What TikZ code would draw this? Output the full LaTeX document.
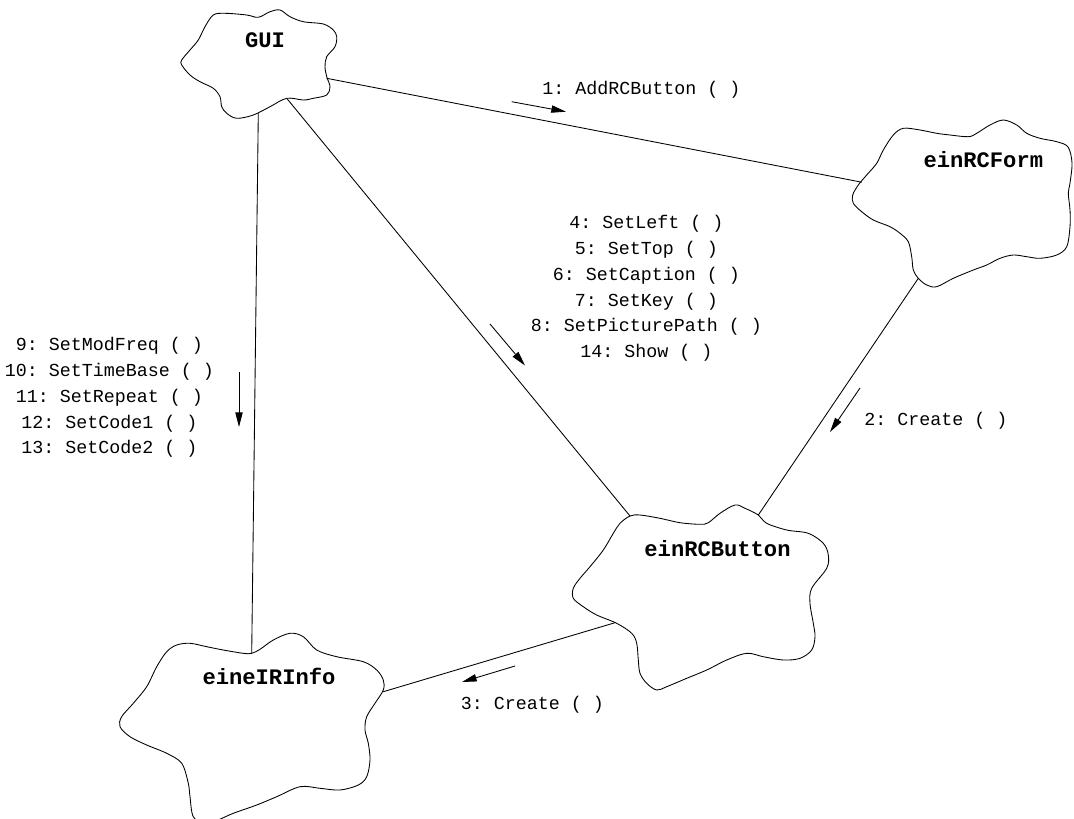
\documentclass[tikz,border=0pt]{standalone}
\usepackage{fontspec}
\setmonofont{Liberation Mono}
\usetikzlibrary{arrows.meta}
\tikzset{
  cloudline/.style={draw=black, line width=0.65pt, line join=round},
  link/.style={draw=black, line width=0.65pt},
  msgarrow/.style={draw=black, line width=0.65pt, -{Triangle[length=11pt,width=5.5pt]}},
  objname/.style={inner sep=0pt, font=\ttfamily\bfseries\fontsize{16.6}{19}\selectfont},
  msg/.style={inner sep=0pt, align=center, font=\ttfamily\fontsize{13.75}{19.35}\selectfont},
}
\begin{document}
\begin{tikzpicture}[x=0.75pt, y=-0.75pt]
\useasboundingbox (0,0) rectangle (1074,818);
\clip (0,0) rectangle (1074,818);

% ---------- clouds ----------
% GUI
\draw[cloudline] plot[smooth cycle, tension=0.55] coordinates {
 (213.3,15) (225,13.3) (246.7,15) (258.3,17.3) (270,11.7) (280,10) (290,16.7)
 (303.3,21.7) (323.3,24) (333.3,30) (336.7,36.7) (335,46.7) (326.7,56.7)
 (325,66.7) (326.7,76.7) (330,86.7) (326.7,95) (313.3,98.3) (303.3,100)
 (286.7,98.3) (270,106.7) (253.3,115) (236.7,118.3) (226.7,113.3) (221.7,106.7)
 (220,96.7) (213.3,88.3) (200,81.7) (190,75) (181.7,65) (181.7,60) (190,50)
 (198.3,40) (205,26.7)};
% einRCForm
\draw[cloudline] plot[smooth cycle, tension=0.55] coordinates {
 (893.3,135) (903.3,128.3) (920,130) (936.7,133.3) (950,135) (968.3,136.7)
 (976.7,133.3) (990,125) (1003.3,120) (1016.7,125) (1026.7,133.3) (1040,138.3)
 (1056.7,141.7) (1068,147) (1072,163) (1070,183) (1068.3,193.3) (1070,210)
 (1070,226.7) (1066.7,246.7) (1056.7,255) (1040,258.3) (1026.7,256.7)
 (1013.3,255) (1000,258.3) (986.7,265) (973.3,270) (953.3,278.3) (936.7,286.7)
 (926.7,285) (918.3,278.3) (913.3,270) (911.7,256.7) (908.3,241.7) (900,233.3)
 (890,226.7) (873.3,220) (861.7,211.7) (853.3,203.3) (852.7,195) (858.3,185)
 (866.7,175) (876.7,163.3) (883.3,150)};
% einRCButton
\draw[cloudline] plot[smooth cycle, tension=0.55] coordinates {
 (630,516) (640,515) (660,518.3) (680,522.7) (700,524.3) (708.3,522.7)
 (720,513.3) (735,505) (745,508.3) (758.3,515) (766.7,523.3) (786.7,530)
 (808.3,533.3) (823.3,543.3) (828.3,555) (826.7,568.3) (811.7,588.3)
 (810,603.3) (813.3,623.3) (815,636.7) (811.7,650) (800,658.3) (783.3,660)
 (763.3,656.7) (746.7,653.3) (726.7,660) (706.7,670) (686.7,678.3)
 (666.7,686.7) (656.7,690) (646.7,683.3) (640,673.3) (638.3,660) (636.7,643.3)
 (631.7,633.3) (616.7,623.3) (596.7,615) (583.3,606.7) (573.3,598.3)
 (573.3,588.3) (580,578.3) (590,566.7) (603.3,550) (613.3,533.3) (620,523.3)};
% eineIRInfo
\draw[cloudline] plot[smooth cycle, tension=0.55] coordinates {
 (166.7,651.7) (176.7,645) (190,643.3) (206.7,646.7) (223.3,650) (243.3,653.3)
 (251.7,653.3) (260,649.3) (273.3,640) (290,633.3) (303.3,636.7) (316.7,650)
 (336.7,656.7) (363.3,661.7) (376.7,670) (383.3,680) (383.3,690) (375,703.3)
 (366.7,716.7) (365,730) (368.3,743.3) (370,760) (366.7,776.7) (358.3,785)
 (340,790) (320,788.3) (300,786.7) (276.7,796.7) (256.7,805) (233.3,813.3)
 (218,820) (205,824) (193.3,816.7) (190,796.7) (188.3,783.3) (181.7,763.3)
 (166.7,753.3) (146.7,745) (130,736.7) (120,726.7) (121.7,716.7) (133.3,703.3)
 (146.7,686.7) (156.7,666.7)};

% ---------- object names ----------
\node[objname] (gui)    at (265,40)    {GUI};
\node[objname] (form)   at (983.3,160) {einRCForm};
\node[objname] (button) at (717.5,548.3) {einRCButton};
\node[objname] (info)   at (269,676.7) {eineIRInfo};

% ---------- link end points on the cloud outlines ----------
\coordinate (guiE)    at (326.7,78.3);
\coordinate (guiS)    at (258.3,113);
\coordinate (guiSE)   at (286.7,98.3);
\coordinate (formW)   at (861.7,182.2);
\coordinate (formS)   at (918.3,278.3);
\coordinate (buttonN) at (630,516);
\coordinate (buttonNE) at (758.3,515);
\coordinate (buttonW) at (615,622.7);
\coordinate (infoN)   at (251.7,653.3);
\coordinate (infoE)   at (383.3,691.7);

\draw[link] (guiE) -- (formW);
\draw[link] (guiS) -- (infoN);
\draw[link] (guiSE) -- (buttonN);
\draw[link] (formS) -- (buttonNE);
\draw[link] (buttonW) -- (infoE);

% ---------- messages ----------
\node[msg] (m1) at (641.5,90) {1: AddRCButton ( )};
\node[msg] (m4) at (646.5,288.5) {4: SetLeft ( )\\5: SetTop ( )\\6: SetCaption ( )\\7: SetKey ( )\\8: SetPicturePath ( )\\14: Show ( )};
\node[msg] (m9) at (109.5,397.5) {9: SetModFreq ( )\\10: SetTimeBase ( )\\11: SetRepeat ( )\\12: SetCode1 ( )\\13: SetCode2 ( )};
\node[msg] (m2) at (936,421) {2: Create ( )};
\node[msg] (m3) at (532.5,704.5) {3: Create ( )};

% ---------- message arrows ----------
\coordinate (a1s) at (511.7,101.7); \coordinate (a1e) at (566,111.7);
\coordinate (a4s) at (490,324);     \coordinate (a4e) at (525,365.5);
\coordinate (a9s) at (239,372);     \coordinate (a9e) at (239,427);
\coordinate (a2s) at (860,388);     \coordinate (a2e) at (830,432);
\coordinate (a3s) at (515,666);     \coordinate (a3e) at (462,682);
\draw[msgarrow] (a1s) -- (a1e);
\draw[msgarrow] (a4s) -- (a4e);
\draw[msgarrow] (a9s) -- (a9e);
\draw[msgarrow] (a2s) -- (a2e);
\draw[msgarrow] (a3s) -- (a3e);
\end{tikzpicture}
\end{document}
